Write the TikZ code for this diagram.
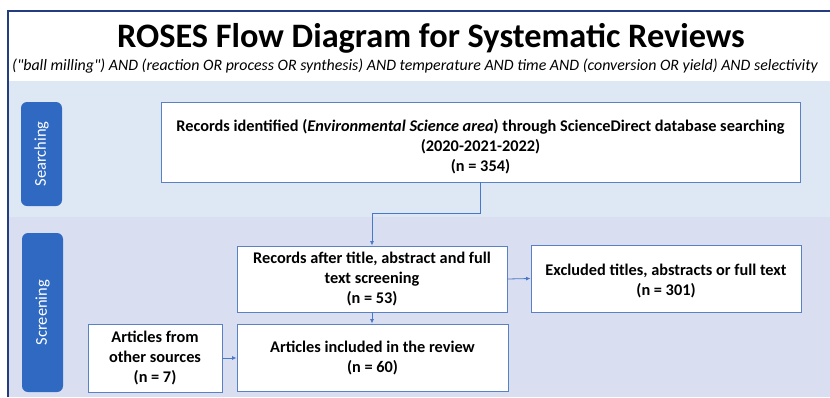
\documentclass[tikz,border=0pt]{standalone}
\usepackage{fontspec}
\setmainfont{Carlito}
% a family without TeX ligatures, so that " stays a straight quote
\newfontfamily\queryfont{Carlito}
\usetikzlibrary{arrows.meta}
\definecolor{framecol}{HTML}{243C80}
\definecolor{bandsearch}{HTML}{DEE8F5}
\definecolor{bandscreen}{HTML}{D9DFF1}
\definecolor{pillcol}{HTML}{2F69C2}
\definecolor{boxline}{HTML}{5A80C6}
\definecolor{arrowcol}{HTML}{4A78C8}
\tikzset{
  flowbox/.style={draw=boxline, line width=0.9pt, fill=white, align=center,
    inner sep=2pt, font=\bfseries\fontsize{16.3}{20}\selectfont},
  stagepill/.style={fill=pillcol, rounded corners=6pt, text=white,
    font=\fontsize{16.5}{19}\selectfont, rotate=90, inner sep=0pt},
  flowarrow/.style={draw=arrowcol, line width=0.8pt,
    -{Latex[length=4.5pt,width=4pt]}},
}
\begin{document}
\begin{tikzpicture}[x=1pt,y=-1pt]
  \useasboundingbox (0,0) rectangle (830,397);
  \fill[white] (0,0) rectangle (830,397);
  % stage bands
  \fill[bandsearch] (9,81) rectangle (830,217);
  \fill[bandscreen] (9,217) rectangle (830,397);
  % outer frame
  \draw[framecol, line width=2pt] (8,397) -- (8,11) -- (830,11);
  % heading
  \node[font=\bfseries\fontsize{34.3}{40}\selectfont] (title) at (431,38)
    {ROSES Flow Diagram for Systematic Reviews};
  \node[font=\queryfont\itshape\fontsize{15.9}{18}\selectfont] (query) at (415,66)
    {("ball milling") AND (reaction OR process OR synthesis) AND temperature AND time AND (conversion OR yield) AND selectivity};
  % stage labels
  \node[stagepill, minimum width=104pt, minimum height=41pt] (searching) at (41.5,154) {Searching};
  \node[stagepill, minimum width=159pt, minimum height=41pt] (screening) at (42.5,312.5) {Screening};
  % boxes
  \node[flowbox, minimum width=639pt, minimum height=80pt] (identified) at (480.5,142)
    {\rule{0pt}{21pt}Records identified (\textit{Environmental Science area}) through ScienceDirect database searching\\(2020-2021-2022)\\(n = 354)};
  \node[flowbox, minimum width=270pt, minimum height=66pt] (screened) at (372,279)
    {Records after title, abstract and full\\text screening\\(n = 53)};
  \node[flowbox, minimum width=270pt, minimum height=67pt] (excluded) at (666,278.5)
    {\rule{0pt}{16pt}Excluded titles, abstracts or full text\\(n = 301)};
  \node[flowbox, minimum width=271pt, minimum height=67pt] (included) at (372.5,357.5)
    {Articles included in the review\\(n = 60)};
  \node[flowbox, minimum width=134pt, minimum height=68pt] (other) at (155,358)
    {Articles from\\other sources\\(n = 7)};
  % connectors
  \draw[flowarrow] (identified.south) -- ++(0,31) -| (screened.north);
  \draw[flowarrow] (screened.east) -- (excluded.west);
  \draw[flowarrow] (screened.south) -- (included.north -| screened.south);
  \draw[flowarrow] (other.east) -- (other.east -| included.west);
\end{tikzpicture}
\end{document}
